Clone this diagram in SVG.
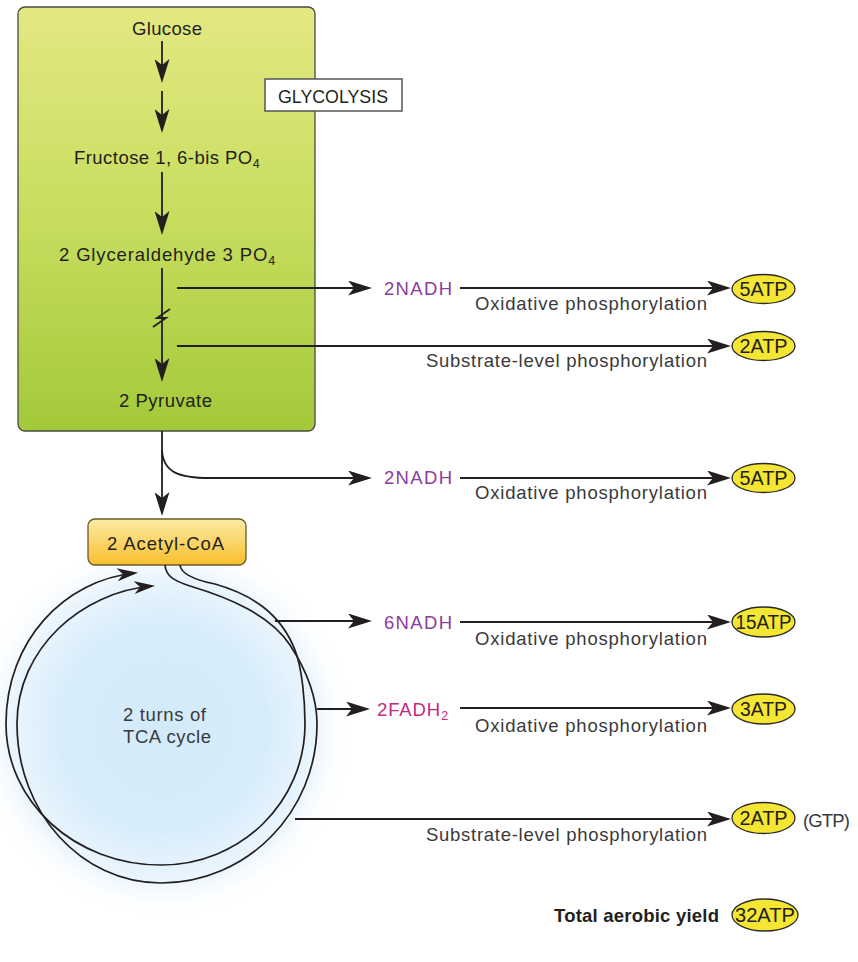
<svg xmlns="http://www.w3.org/2000/svg" width="858" height="962" viewBox="0 0 858 962">
<defs>
<linearGradient id="gGreen" x1="0" y1="0" x2="0" y2="1">
<stop offset="0" stop-color="#e4e882"/>
<stop offset="0.5" stop-color="#c7dd5e"/>
<stop offset="1" stop-color="#a3c93a"/>
</linearGradient>
<linearGradient id="gOrange" x1="0" y1="0" x2="0" y2="1">
<stop offset="0" stop-color="#fdeaa6"/>
<stop offset="1" stop-color="#f7bf2c"/>
</linearGradient>
<radialGradient id="gBlue" cx="163" cy="728" r="190" gradientUnits="userSpaceOnUse">
<stop offset="0" stop-color="#d3eafa"/>
<stop offset="0.55" stop-color="#d8edfb"/>
<stop offset="0.8" stop-color="#eaf5fd"/>
<stop offset="1" stop-color="#ffffff" stop-opacity="0"/>
</radialGradient>
<marker id="ah" viewBox="-24 -7.5 24 15" refX="-3" refY="0" markerWidth="24" markerHeight="15" markerUnits="userSpaceOnUse" orient="auto">
<path d="M0,0 L-24,-7.5 L-18,0 L-24,7.5 Z" fill="#231f20"/>
</marker>
<marker id="ahs" viewBox="-21 -6.5 21 13" refX="-3" refY="0" markerWidth="21" markerHeight="13" markerUnits="userSpaceOnUse" orient="auto">
<path d="M0,0 L-21,-6.5 L-15,0 L-21,6.5 Z" fill="#231f20"/>
</marker>
<style>
text{font-family:"Liberation Sans",Arial,sans-serif;fill:#231f20}
.t{font-size:18.5px}
.lbl{font-size:18.5px;fill:#3a3a3a}
.nadh{font-size:18.5px;fill:#8b3c9e}
.fadh{font-size:18.5px;fill:#c42a80}
.atp{font-size:19.5px;text-anchor:middle}
.ell{fill:#f5e634;stroke:#2a2a2a;stroke-width:1.3}
.ln{fill:none;stroke:#231f20;stroke-width:1.8}
.arr{fill:none;stroke:#231f20;stroke-width:1.8;marker-end:url(#ah)}
.arrs{fill:none;stroke:#231f20;stroke-width:1.7;marker-end:url(#ahs)}
</style>
</defs>
<rect x="0" y="0" width="858" height="962" fill="#ffffff"/>
<circle cx="163" cy="728" r="190" fill="url(#gBlue)"/>

<g id="glycolysis-box">
<rect x="18" y="7" width="297" height="424" rx="7" fill="url(#gGreen)" stroke="#4a4a40" stroke-width="1.3"/>
</g>
<g id="glycolysis-label">
<rect x="265" y="79" width="137" height="32" fill="#ffffff" stroke="#555555" stroke-width="1.5"/>
<text class="t" x="278" y="103" textLength="110" lengthAdjust="spacingAndGlyphs">GLYCOLYSIS</text>
</g>
<g id="glucose"><text class="t" x="132" y="35" textLength="70">Glucose</text></g>
<g id="fructose"><text class="t" x="74" y="164" letter-spacing="0.45">Fructose 1, 6-bis PO<tspan font-size="12.5" dy="4">4</tspan></text></g>
<g id="glyceraldehyde"><text class="t" x="59" y="261" letter-spacing="0.85">2 Glyceraldehyde 3 PO<tspan font-size="12.5" dy="4">4</tspan></text></g>
<g id="pyruvate"><text class="t" x="119" y="407" textLength="93">2 Pyruvate</text></g>

<g id="acetyl-coa">
<rect x="88" y="519" width="158" height="46" rx="7" fill="url(#gOrange)" stroke="#6b5a2a" stroke-width="1.3"/>
<text class="t" x="107" y="550" textLength="117">2 Acetyl-CoA</text>
</g>
<g id="tca">
<text class="lbl" x="123" y="721" textLength="83">2 turns of</text>
<text class="lbl" x="123" y="743" textLength="88">TCA cycle</text>
</g>

<g id="connectors">
<line class="arr" x1="162" y1="41" x2="162" y2="80"/>
<line class="arr" x1="162" y1="91" x2="162" y2="130"/>
<line class="arr" x1="162" y1="172" x2="162" y2="232"/>
<line class="arr" x1="162" y1="268" x2="162" y2="379"/>
<polyline class="ln" points="153,327 166,318 157,318 170,309" stroke-width="1.6"/>
<line class="arr" x1="177" y1="288" x2="369" y2="288"/>
<line class="arr" x1="460" y1="288" x2="728" y2="288"/>
<line class="arr" x1="177" y1="346" x2="728" y2="346"/>
<line class="arr" x1="162" y1="431" x2="162" y2="513"/>
<path class="arr" d="M162,450 C163,473 180,478 210,478 L369,478"/>
<line class="arr" x1="460" y1="478" x2="728" y2="478"/>
<path class="arrs" d="M165,565 C166,577 175,581 190,586 C230,598 270,615 290,645 C305,668 317,695 317,724 C317,812 247,883 161,883 C81,883 17,812 17,724 C17,648 82,592 152,586"/>
<path class="arrs" d="M180,565 C181,574 195,580 215,584 C250,594 280,612 295,650 C302,668 305,700 305,724 C305,802 241,865 161,865 C75,865 6,802 6,724 C6,640 65,580 135,573"/>
<line class="arr" x1="275" y1="621" x2="369" y2="621"/>
<line class="arr" x1="460" y1="622" x2="728" y2="622"/>
<line class="arr" x1="317" y1="709" x2="367" y2="709"/>
<line class="arr" x1="460" y1="708" x2="728" y2="708"/>
<line class="arr" x1="295" y1="819" x2="728" y2="819"/>
</g>

<g id="nadh1"><text class="nadh" x="384" y="295" textLength="68">2NADH</text></g>
<g id="nadh2"><text class="nadh" x="384" y="484" textLength="68">2NADH</text></g>
<g id="nadh3"><text class="nadh" x="384" y="629" textLength="68">6NADH</text></g>
<g id="fadh"><text class="fadh" x="377" y="716" letter-spacing="0.9">2FADH<tspan font-size="12.5" dy="4">2</tspan></text></g>

<g id="labels">
<text class="lbl" x="475" y="310" textLength="232">Oxidative phosphorylation</text>
<text class="lbl" x="426" y="367" textLength="281">Substrate-level phosphorylation</text>
<text class="lbl" x="475" y="499" textLength="232">Oxidative phosphorylation</text>
<text class="lbl" x="475" y="645" textLength="232">Oxidative phosphorylation</text>
<text class="lbl" x="475" y="732" textLength="232">Oxidative phosphorylation</text>
<text class="lbl" x="426" y="841" textLength="281">Substrate-level phosphorylation</text>
<text class="lbl" x="803" y="827" textLength="47">(GTP)</text>
<text class="t" x="554" y="922" textLength="165" font-weight="bold">Total aerobic yield</text>
</g>

<g id="atp1"><ellipse class="ell" cx="763.5" cy="289" rx="31.5" ry="14.5"/><text class="atp" x="763.5" y="296" textLength="48" lengthAdjust="spacingAndGlyphs">5ATP</text></g>
<g id="atp2"><ellipse class="ell" cx="763.5" cy="346" rx="31.5" ry="14.5"/><text class="atp" x="763.5" y="353" textLength="48" lengthAdjust="spacingAndGlyphs">2ATP</text></g>
<g id="atp3"><ellipse class="ell" cx="763.5" cy="478" rx="31.5" ry="14.5"/><text class="atp" x="763.5" y="485" textLength="48" lengthAdjust="spacingAndGlyphs">5ATP</text></g>
<g id="atp4"><ellipse class="ell" cx="763.5" cy="622" rx="31.5" ry="15"/><text class="atp" x="763.5" y="629" textLength="56" lengthAdjust="spacingAndGlyphs">15ATP</text></g>
<g id="atp5"><ellipse class="ell" cx="763.5" cy="709" rx="31.5" ry="15"/><text class="atp" x="763.5" y="716" textLength="47" lengthAdjust="spacingAndGlyphs">3ATP</text></g>
<g id="atp6"><ellipse class="ell" cx="763.5" cy="818" rx="31.5" ry="15.5"/><text class="atp" x="763.5" y="825" textLength="48" lengthAdjust="spacingAndGlyphs">2ATP</text></g>
<g id="atp7"><ellipse class="ell" cx="765" cy="915" rx="33" ry="16"/><text class="atp" x="765" y="922" textLength="60" lengthAdjust="spacingAndGlyphs">32ATP</text></g>
</svg>
